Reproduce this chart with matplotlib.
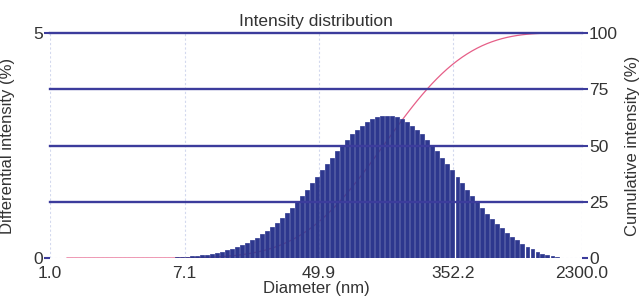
import numpy as np
import matplotlib
matplotlib.use("Agg")
import matplotlib.pyplot as plt

plt.rcParams['font.family'] = ['Liberation Sans', 'DejaVu Sans']

title = "Intensity distribution"
x_label = "Diameter (nm)"
left_label = "Differential intensity (%)"
right_label = "Cumulative intensity (%)"

x_ticks = [1.0, 7.1, 49.9, 352.2, 2300.0]
x_tick_labels = ["1.0", "7.1", "49.9", "352.2", "2300.0"]
left_ticks = [0, 5]
right_ticks = [0, 25, 50, 75, 100]

diameters = [
    1.281, 1.378, 1.482, 1.594, 1.714, 1.844, 1.983, 2.133, 2.294, 2.466,
    2.653, 2.853, 3.069, 3.300, 3.548, 3.816, 4.104, 4.414, 4.748, 5.105,
    5.491, 5.906, 6.352, 6.832, 7.345, 7.900, 8.497, 9.138, 9.826, 10.57,
    11.37, 12.23, 13.15, 14.14, 15.21, 16.36, 17.59, 18.92, 20.35, 21.88,
    23.53, 25.31, 27.22, 29.28, 31.48, 33.86, 36.42, 39.16, 42.12, 45.29,
    48.72, 52.39, 56.35, 60.60, 65.16, 70.08, 75.38, 81.07, 87.19, 93.76,
    100.8, 108.4, 116.6, 125.4, 134.9, 145.1, 156.0, 167.8, 180.5, 194.1,
    208.7, 224.5, 241.5, 259.7, 279.3, 300.4, 323.0, 347.4, 373.7, 401.8,
    432.2, 464.8, 499.9, 537.6, 578.1, 621.8, 668.7, 719.2, 773.5, 831.8,
    894.6, 962.1, 1035, 1113, 1197, 1287, 1384, 1489, 1601, 1722,
]

intensity = [
    0, 0, 0, 0, 0, 0, 0, 0, 0, 0,
    0, 0, 0, 0, 0, 0, 0, 0, 0, 0,
    0, 0, 0.020, 0.025, 0.032, 0.040, 0.050, 0.062, 0.076, 0.094,
    0.114, 0.139, 0.167, 0.200, 0.238, 0.282, 0.332, 0.389, 0.453, 0.525,
    0.604, 0.692, 0.787, 0.891, 1.002, 1.121, 1.246, 1.378, 1.515, 1.656,
    1.800, 1.945, 2.089, 2.233, 2.372, 2.503, 2.630, 2.745, 2.850, 2.941,
    3.018, 3.079, 3.124, 3.151, 3.160, 3.151, 3.124, 3.079, 3.018, 2.941,
    2.850, 2.745, 2.630, 2.503, 2.372, 2.233, 2.089, 1.945, 1.800, 1.656,
    1.515, 1.378, 1.246, 1.121, 0.98, 0.87, 0.76, 0.66, 0.56, 0.47,
    0.39, 0.32, 0.25, 0.19, 0.14, 0.10, 0.07, 0.04, 0.02, 0.01,
]

d = np.array(diameters, dtype=float)
h = np.array(intensity, dtype=float)
cum = np.cumsum(h) / h.sum() * 100.0

navy = '#2d378e'
line_col = '#3c3c9c'
pink = '#e65f88'
grid_col = '#d3d9ee'
text_col = '#333333'

fig = plt.figure(figsize=(6.41, 3.05), dpi=100)
fig.patch.set_facecolor('white')
ax = fig.add_axes([50/641, 47/305, 532/641, 225/305])
ax2 = ax.twinx()
ax.set_zorder(ax2.get_zorder() + 1)
ax.patch.set_visible(False)

# bars with log-symmetric widths
step = np.log10(d[1] / d[0])
half = 10 ** (step * 0.32)
left = d / half
right = d * half
ax.bar(left, h, width=right - left, align='edge', color=navy,
       edgecolor=navy, linewidth=0.5, zorder=3)

# cumulative curve (behind bars)
ax2.plot(d, cum, color=pink, linewidth=0.9, zorder=2)

ax.set_xscale('log')
ax.set_xlim(1.0, 2300.0)
ax.set_ylim(0, 5)
ax2.set_ylim(0, 100)

ax.set_xticks(x_ticks)
ax.set_xticklabels(x_tick_labels)
ax.xaxis.set_minor_locator(matplotlib.ticker.NullLocator())
ax.set_yticks(left_ticks)
ax2.set_yticks(right_ticks)

for t in x_ticks:
    ax.axvline(t, color=grid_col, linewidth=0.8, linestyle=(0, (2, 2)), zorder=1)
for t in right_ticks[1:]:
    ax.axhline(t / 20.0, color=line_col, linewidth=1.7, zorder=4, clip_on=False)
ax.axhline(0, color=grid_col, linewidth=0.8, linestyle=(0, (2, 2)), zorder=1)

for a in (ax, ax2):
    for s in a.spines.values():
        s.set_visible(False)

ax.tick_params(axis='x', length=0, pad=6, labelsize=12.5, colors=text_col)
ax.tick_params(axis='y', length=4, width=1.5, color=line_col, pad=1,
               labelsize=12.5, labelcolor=text_col)
ax2.tick_params(axis='y', length=4, width=1.5, color=line_col, pad=1,
                labelsize=12.5, labelcolor=text_col)

ax.set_title(title, fontsize=12.5, color=text_col, pad=5)
ax.set_xlabel(x_label, fontsize=12, color=text_col, labelpad=0)
ax.set_ylabel(left_label, fontsize=12, color=text_col)
ax2.set_ylabel(right_label, fontsize=12, color=text_col)
ax.yaxis.set_label_coords(-0.066, 0.5)
ax2.yaxis.set_label_coords(1.081, 0.5)

fig.savefig('out.png', dpi=100, facecolor='white')
